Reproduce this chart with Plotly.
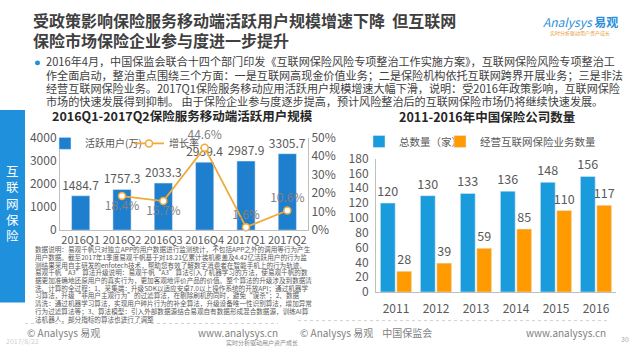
import plotly.graph_objects as go

# ---------------- data ----------------
quarters = ["2016Q1", "2016Q2", "2016Q3", "2016Q4", "2017Q1", "2017Q2"]
active_users = [1484.7, 1757.3, 2033.3, 2939.4, 2987.9, 3305.7]
growth_rate = [None, 18.4, 15.7, 44.6, 1.6, 10.6]
growth_pos = ["top center", "bottom center", "bottom center", "top center", "top center", "top center"]

years = ["2011", "2012", "2013", "2014", "2015", "2016"]
total_companies = [120, 130, 133, 136, 148, 156]
internet_companies = [28, 39, 59, 85, 110, 117]

title_lines = ["受政策影响保险服务移动端活跃用户规模增速下降  但互联网",
               "保险市场保险企业参与度进一步提升"]
para_lines = [
    "2016年4月，中国保监会联合十四个部门印发《互联网保险风险专项整治工作实施方案》，互联网保险风险专项整治工",
    "作全面启动，整治重点围绕三个方面：一是互联网高现金价值业务；二是保险机构依托互联网跨界开展业务；三是非法",
    "经营互联网保险业务。2017Q1保险服务移动应用活跃用户规模增速大幅下滑，说明：受2016年政策影响，互联网保险",
    "市场的快速发展得到抑制。 由于保险企业参与度逐步提高，预计风险整治后的互联网保险市场仍将继续快速发展。",
]
note_lines = [
    "数据说明：易观千帆只对独立APP的用户数据进行监测统计，不包括APP之外的调用等行为产生",
    "用户数据。截至2017年1季度易观千帆基于对18.21亿累计装机覆盖及4.42亿活跃用户的行为监",
    "测结果采用自主研发的enfotech技术，帮助您有效了解数字消费者在智能手机上的行为轨迹。",
    "易观千帆“A3”算法升级说明：易观千帆“A3”算法引入了机器学习的方法，使易观千帆的数",
    "据更加准确地还原用户的真实行为，更加客观地评价产品的价值。整个算法的升级涉及到数据清",
    "洗、计算的全过程：1、采集端：升级SDK以适应安卓7.0以上操作系统的开放API；通过机器学",
    "习算法，升级“非用户主观行为”的过滤算法，在剔除刷机的同时，避免“误杀”；2、数据",
    "清洗：通过机器学习算法，实现用户碎片行为的补全算法，升级设备唯一性识别算法，增加异常",
    "行为过滤算法等；3、算法模型：引入外部数据源结合易观自有数据形成混合数据源，训练AI算",
    "法机器人，部分指标的算法也进行了调整",
]

W, H = 640, 360
FONT = "Noto Sans CJK SC, Noto Sans, sans-serif"
GRAY = "#595959"
BLUE_L = "#1F7FCF"
BLUE_R = "#1A9BDC"
ORANGE = "#FF9A00"
LINE_C = "#F0AA35"


def px(x):
    return x / W


def py(y):
    return 1 - y / H


fig = go.Figure()

# ---------------- left chart ----------------
fig.add_trace(go.Bar(
    x=quarters, y=active_users, name="活跃用户(万)",
    marker=dict(color=BLUE_L), width=0.44,
    text=[f"{v:.1f}" for v in active_users], textposition="outside",
    constraintext="none", showlegend=True,
    textfont=dict(size=12, color=GRAY), cliponaxis=False,
    xaxis="x", yaxis="y", legend="legend",
))
fig.add_trace(go.Scatter(
    x=quarters, y=growth_rate, name="增长率", mode="lines+markers+text",
    line=dict(color=LINE_C, width=1.8),
    marker=dict(color="white", size=7, line=dict(color=LINE_C, width=1.5)),
    text=[None if v is None else f"{v:.1f}%" for v in growth_rate],
    textposition=growth_pos, textfont=dict(size=12, color="#7F7F7F"),
    cliponaxis=False, showlegend=True, xaxis="x", yaxis="y2", legend="legend2",
))

# ---------------- right chart ----------------
fig.add_trace(go.Bar(
    x=years, y=total_companies, name="总数量（家）",
    marker=dict(color=BLUE_R), width=0.37, offset=-0.39,
    text=[str(v) for v in total_companies], textposition="outside",
    constraintext="none", showlegend=True,
    textfont=dict(size=12.5, color=GRAY), cliponaxis=False,
    xaxis="x3", yaxis="y3", legend="legend3",
))
fig.add_trace(go.Bar(
    x=years, y=internet_companies, name="经营互联网保险业务数量",
    marker=dict(color=ORANGE), width=0.37, offset=0.02,
    text=[str(v) for v in internet_companies], textposition="outside",
    constraintext="none", showlegend=True,
    textfont=dict(size=12.5, color=GRAY), cliponaxis=False,
    xaxis="x3", yaxis="y3", legend="legend4",
))

axis_common = dict(showgrid=False, zeroline=False, ticks="",
                   linecolor="#BFBFBF", linewidth=1, fixedrange=True)
tf12 = dict(size=12, color=GRAY, family=FONT)
tf11 = dict(size=11, color=GRAY, family=FONT)


def leg(x, y, size):
    return dict(orientation="h", x=px(x), y=py(y), xanchor="left", yanchor="middle",
                font=dict(size=size, color=GRAY), bgcolor="rgba(0,0,0,0)",
                itemwidth=30, tracegroupgap=0, borderwidth=0)


fig.update_layout(
    width=W, height=H,
    margin=dict(l=0, r=0, t=0, b=0),
    paper_bgcolor="white", plot_bgcolor="rgba(0,0,0,0)",
    font=dict(family=FONT, color=GRAY),
    barmode="overlay", showlegend=True,
    xaxis=dict(domain=[px(60), px(308)], anchor="y", type="category", tickangle=0,
               tickfont=tf11, range=[-0.5, 5.5], showline=True, **axis_common),
    yaxis=dict(domain=[py(231), py(134)], anchor="x", range=[0, 4000], tickfont=tf12,
               dtick=1000, showline=True, **axis_common),
    yaxis2=dict(overlaying="y", side="right", anchor="x", range=[0, 50], tickfont=tf12,
                dtick=10, ticksuffix="%", showline=True, **axis_common),
    xaxis3=dict(domain=[px(376), px(616)], anchor="y3", type="category", tickangle=0,
                tickfont=tf12, range=[-0.5, 5.5], showline=True, ticklabelstandoff=6,
                **axis_common),
    yaxis3=dict(domain=[py(296), py(156)], anchor="x3", range=[0, 180], tickfont=tf12,
                dtick=20, showline=True, ticklabelstandoff=4, **axis_common),
    legend=leg(45, 140, 10),
    legend2=leg(129, 140, 10),
    legend3=leg(359, 138, 10.5),
    legend4=leg(440, 138, 10.5),
)

shapes = [
    # left vertical blue band
    dict(type="rect", xref="paper", yref="paper", x0=0, x1=px(25), y0=py(307), y1=py(105),
         fillcolor="#1E90DC", line=dict(width=0), layer="below"),
    # bullet dot
    dict(type="circle", xref="paper", yref="paper", x0=px(35), x1=px(40), y0=py(58), y1=py(53),
         fillcolor="#1E90DC", line=dict(width=0)),
    # footer separators
    dict(type="line", xref="paper", yref="paper", x0=px(25), x1=px(278), y0=py(329), y1=py(329),
         line=dict(color="#D0D0D0", width=1, dash="dot")),
    dict(type="line", xref="paper", yref="paper", x0=px(298), x1=px(607), y0=py(326), y1=py(326),
         line=dict(color="#D0D0D0", width=1, dash="dot")),
]

ann = []


def text(x, y, s, size, color=GRAY, xanchor="left", bold=False, family=FONT):
    ann.append(dict(xref="paper", yref="paper", x=px(x), y=py(y), text=(f"<b>{s}</b>" if bold else s),
                    showarrow=False, xanchor=xanchor, yanchor="middle",
                    font=dict(size=size, color=color, family=family)))


# title
text(31, 11, title_lines[0], 16, "#404040", bold=True)
text(31, 31, title_lines[1], 16, "#404040", bold=True)
# logo
ann.append(dict(xref="paper", yref="paper", x=px(580), y=py(12), showarrow=False,
                xanchor="center", yanchor="middle",
                text="<i>Analysys</i> <b>易观</b>",
                font=dict(size=12, color="#2A8FD8", family=FONT)))
text(580, 24, "实时分析驱动用户资产成长", 5, "#E8A040", xanchor="center")

# paragraph
for i, line in enumerate(para_lines):
    text(44, 54 + i * 14.0, line, 11.1, "#404040")

# vertical band text
ann.append(dict(xref="paper", yref="paper", x=px(12.5), y=py(203), showarrow=False,
                xanchor="center", yanchor="middle",
                text="互<br>联<br>网<br>保<br>险",
                font=dict(size=12.5, color="white", family=FONT)))

# chart titles
text(182, 111, "2016Q1-2017Q2保险服务移动端活跃用户规模", 12.5, "#262626", xanchor="center", bold=True)
text(487, 112, "2011-2016年中国保险公司数量", 12.5, "#262626", xanchor="center", bold=True)

# notes
for i, line in enumerate(note_lines):
    text(33, 251 + i * 8.1, line, 6.6, GRAY)

# footer
text(25, 339, "© Analysys 易观", 10, "#7F7F7F")
text(280, 338, "www.analysys.cn", 10, "#7F7F7F", xanchor="right")
text(262, 349, "实时分析驱动用户资产成长", 6, "#8C8C8C", xanchor="center")
text(298, 338, "© Analysys 易观    中国保监会", 10, "#7F7F7F")
text(608, 338, "www.analysys.cn", 10, "#7F7F7F", xanchor="right")
text(625, 345, "30", 7, "#A6A6A6", xanchor="center")
text(4, 347, "2017/8/22", 7, "#D0D0D0")

fig.update_layout(shapes=shapes, annotations=ann)

fig.write_html("out.html", config={"displayModeBar": False},
               post_script="document.body.style.margin='0';")
